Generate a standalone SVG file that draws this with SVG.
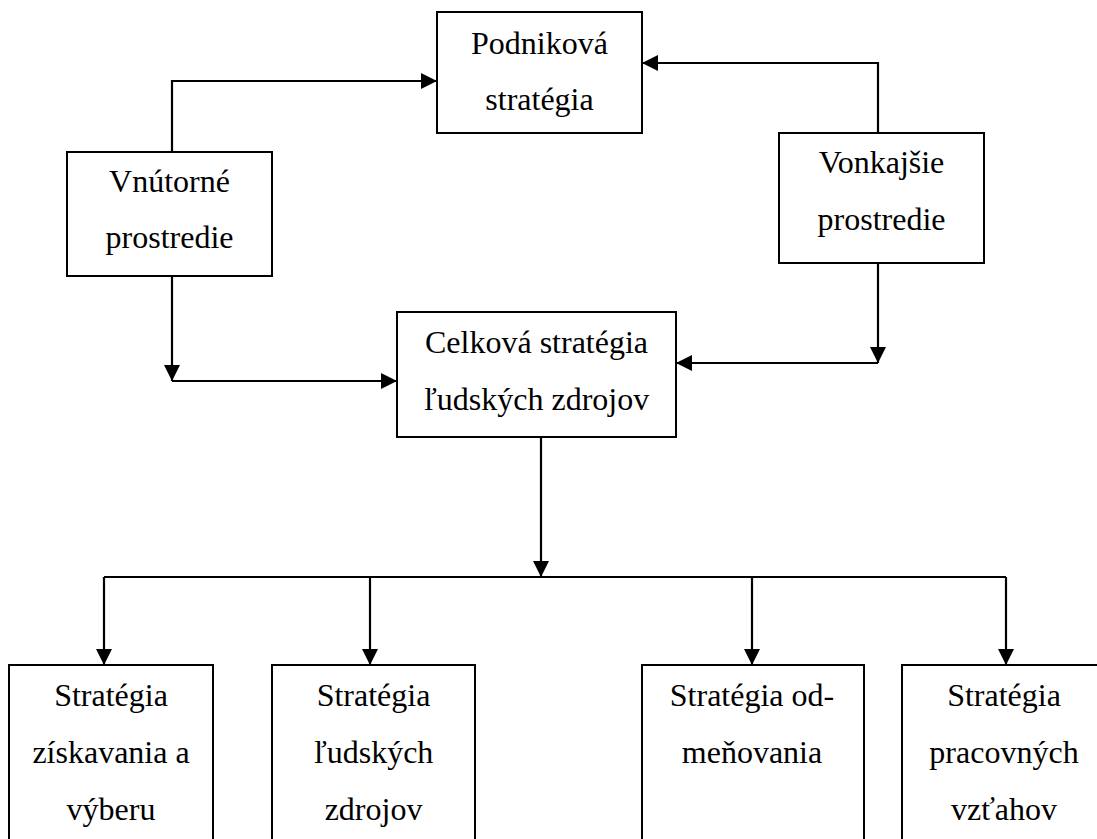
<svg xmlns="http://www.w3.org/2000/svg" width="1097" height="839" viewBox="0 0 1097 839">
<style>
.box{fill:#fff;stroke:#000;stroke-width:2}
.lbl{font-family:"Liberation Serif","Times New Roman",serif;font-size:32px;fill:#000;text-anchor:middle}
.con{fill:none;stroke:#000;stroke-width:2.2}
</style>
<defs>
<marker id="ah" viewBox="0 0 16 16" refX="16" refY="8" markerWidth="16" markerHeight="16" markerUnits="userSpaceOnUse" orient="auto">
<path d="M0,0 L16,8 L0,16 z" fill="#000"/>
</marker>
</defs>
<rect width="1097" height="839" fill="#fff"/>
<g id="connectors">
<path class="con" d="M172,152 V81 H437" marker-end="url(#ah)"/>
<path class="con" d="M878,133 V63 H642" marker-end="url(#ah)"/>
<path class="con" d="M172,276 V381" marker-end="url(#ah)"/>
<path class="con" d="M172,381 H397" marker-end="url(#ah)"/>
<path class="con" d="M878,263 V363" marker-end="url(#ah)"/>
<path class="con" d="M878,363 H676" marker-end="url(#ah)"/>
<path class="con" d="M541,437 V577" marker-end="url(#ah)"/>
<path class="con" d="M104,577 H1006"/>
<path class="con" d="M104,577 V665" marker-end="url(#ah)"/>
<path class="con" d="M370,577 V665" marker-end="url(#ah)"/>
<path class="con" d="M752,577 V665" marker-end="url(#ah)"/>
<path class="con" d="M1006,577 V665" marker-end="url(#ah)"/>
</g>
<g id="podnikova">
<rect class="box" x="437" y="12" width="205" height="121"/>
<text class="lbl" x="539.5" y="54">Podniková</text>
<text class="lbl" x="539.5" y="110">stratégia</text>
</g>
<g id="vnutorne">
<rect class="box" x="67" y="152" width="205" height="124"/>
<text class="lbl" x="169.5" y="192">Vnútorné</text>
<text class="lbl" x="169.5" y="248">prostredie</text>
</g>
<g id="vonkajsie">
<rect class="box" x="779" y="133" width="205" height="130"/>
<text class="lbl" x="881.5" y="173">Vonkajšie</text>
<text class="lbl" x="881.5" y="230">prostredie</text>
</g>
<g id="celkova">
<rect class="box" x="397" y="312" width="279" height="125"/>
<text class="lbl" x="536.5" y="353">Celková stratégia</text>
<text class="lbl" x="536.5" y="410">ľudských zdrojov</text>
</g>
<g id="ziskavanie">
<rect class="box" x="9" y="665" width="204" height="190"/>
<text class="lbl" x="111" y="706">Stratégia</text>
<text class="lbl" x="111" y="763">získavania a</text>
<text class="lbl" x="111" y="820">výberu</text>
</g>
<g id="ludske">
<rect class="box" x="272" y="665" width="203" height="190"/>
<text class="lbl" x="373.5" y="706">Stratégia</text>
<text class="lbl" x="373.5" y="763">ľudských</text>
<text class="lbl" x="373.5" y="820">zdrojov</text>
</g>
<g id="odmenovanie">
<rect class="box" x="642" y="665" width="222" height="190"/>
<text class="lbl" x="752" y="706">Stratégia od-</text>
<text class="lbl" x="752" y="763">meňovania</text>
</g>
<g id="pracovne">
<rect class="box" x="902" y="665" width="205" height="190"/>
<text class="lbl" x="1004" y="706">Stratégia</text>
<text class="lbl" x="1004" y="763">pracovných</text>
<text class="lbl" x="1004" y="820">vzťahov</text>
</g>
</svg>
